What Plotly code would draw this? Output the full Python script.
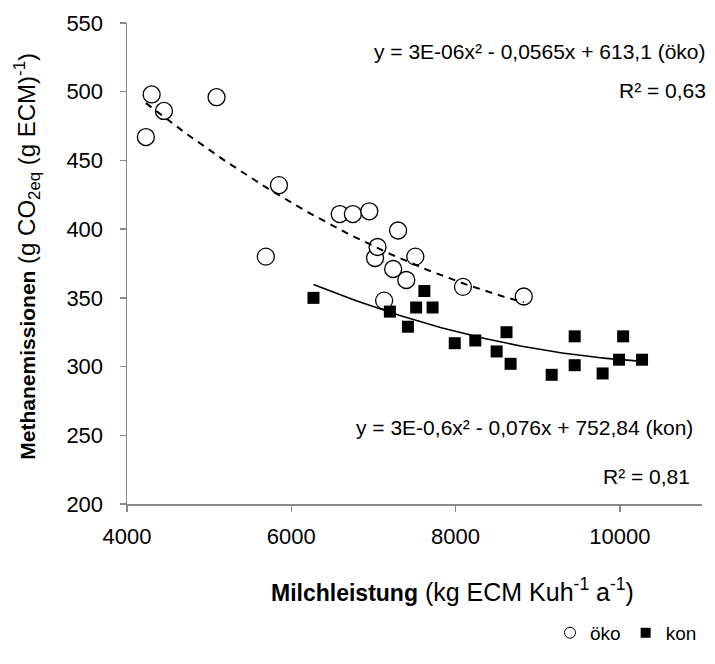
import numpy as np
import plotly.graph_objects as go

# öko (organic) farms
oeko_x = [4230, 4300, 4450, 5090, 5690, 5850, 6590, 6750, 6950, 7020,
          7050, 7130, 7240, 7300, 7400, 7510, 8090, 8830]
oeko_y = [467, 498, 486, 496, 380, 432, 411, 411, 413, 379,
          387, 348, 371, 399, 363, 380, 358, 351]

# kon (conventional) farms
kon_x = [6270, 7200, 7420, 7520, 7620, 7720, 7990, 8240, 8500, 8620,
         8670, 9170, 9450, 9450, 9790, 9990, 10040, 10270]
kon_y = [350, 340, 329, 343, 355, 343, 317, 319, 311, 325,
         302, 294, 322, 301, 295, 305, 322, 305]

x_ticks = [4000, 6000, 8000, 10000]
x_tick_labels = ["4000", "6000", "8000", "10000"]
y_ticks = [200, 250, 300, 350, 400, 450, 500, 550]
y_tick_labels = ["200", "250", "300", "350", "400", "450", "500", "550"]

eq_oeko = "y = 3E-06x² - 0,0565x + 613,1 (öko)"
r2_oeko = "R² = 0,63"
eq_kon = "y = 3E-0,6x² - 0,076x + 752,84 (kon)"
r2_kon = "R² = 0,81"

FONT = "Liberation Sans, Arial, sans-serif"
AXIS_COLOR = "#898989"


def trend(xs, ys):
    c = np.polyfit(xs, ys, 2)
    xx = np.linspace(min(xs), max(xs), 120)
    return xx, np.polyval(c, xx)


fig = go.Figure()

fig.add_trace(go.Scatter(
    x=oeko_x, y=oeko_y, mode="markers", showlegend=False,
    marker=dict(symbol="circle", size=17, color="white",
                line=dict(color="black", width=1.3))))
fig.add_trace(go.Scatter(
    x=kon_x, y=kon_y, mode="markers", showlegend=False,
    marker=dict(symbol="square", size=12, color="black",
                line=dict(color="black", width=0))))

tx, ty = trend(oeko_x, oeko_y)
fig.add_trace(go.Scatter(x=tx, y=ty, mode="lines", showlegend=False,
                         line=dict(color="black", width=2, dash="7px,6px"),
                         hoverinfo="skip"))
tx, ty = trend(kon_x, kon_y)
fig.add_trace(go.Scatter(x=tx, y=ty, mode="lines", showlegend=False,
                         line=dict(color="black", width=1.6),
                         hoverinfo="skip"))

# legend entries
fig.add_trace(go.Scatter(
    x=[None], y=[None], mode="markers", name="öko",
    marker=dict(symbol="circle", size=11, color="white",
                line=dict(color="black", width=1))))
fig.add_trace(go.Scatter(
    x=[None], y=[None], mode="markers", name="kon",
    marker=dict(symbol="square", size=10, color="black")))

fig.update_layout(
    width=715, height=664,
    margin=dict(l=127, r=13, t=23, b=149),
    paper_bgcolor="white", plot_bgcolor="white",
    font=dict(family=FONT, size=21, color="black"),
    showlegend=True,
    hovermode=False,
    legend=dict(orientation="h", x=1.0, xanchor="right", y=-0.268,
                yanchor="middle", font=dict(size=19), itemwidth=30,
                bgcolor="rgba(0,0,0,0)"),
    xaxis=dict(range=[4000, 11000], tickvals=x_ticks, ticktext=x_tick_labels,
               showgrid=False, zeroline=False, showline=True,
               linecolor=AXIS_COLOR, linewidth=1.5, ticks="outside",
               ticklen=6, tickcolor=AXIS_COLOR, tickwidth=1.5,
               ticklabelstandoff=6, tickfont=dict(size=22)),
    yaxis=dict(range=[200, 550], tickvals=y_ticks, ticktext=y_tick_labels,
               showgrid=False, zeroline=False, showline=True,
               linecolor=AXIS_COLOR, linewidth=1.5, ticks="outside",
               ticklen=6, tickcolor=AXIS_COLOR, tickwidth=1.5,
               ticklabelstandoff=12, tickfont=dict(size=22)),
)

annots = [
    dict(text=eq_oeko, x=1.0104, y=0.941),
    dict(text=r2_oeko, x=1.0104, y=0.860),
    dict(text=eq_kon, x=0.988, y=0.1585),
    dict(text=r2_kon, x=0.983, y=0.057),
]
for a in annots:
    fig.add_annotation(text=a["text"], x=a["x"], y=a["y"], xref="paper",
                       yref="paper", xanchor="right", yanchor="middle",
                       showarrow=False, font=dict(size=21, family=FONT))

fig.add_annotation(
    text='<span style="font-size:23px"><b>Milchleistung</b></span>'
         ' (kg ECM Kuh<sup>-1</sup> a<sup>-1</sup>)',
    x=(452 - 127) / 575, y=(515 - 603) / 492, xref="paper", yref="paper",
    xanchor="center", yanchor="middle", showarrow=False,
    font=dict(size=25, family=FONT))
fig.add_annotation(
    text='<span style="font-size:21px"><b>Methanemissionen</b></span>'
         ' (g CO<sub>2eq</sub> (g ECM)<sup>-1</sup>)',
    x=(27 - 127) / 575, y=(515 - 262) / 492, xref="paper", yref="paper",
    xanchor="center", yanchor="middle", textangle=-90, showarrow=False,
    font=dict(size=24, family=FONT))

fig.write_html(
    "out.html",
    config={"displayModeBar": False, "staticPlot": True},
    post_script="document.body.style.margin='0';"
                "document.body.style.overflow='hidden';")
